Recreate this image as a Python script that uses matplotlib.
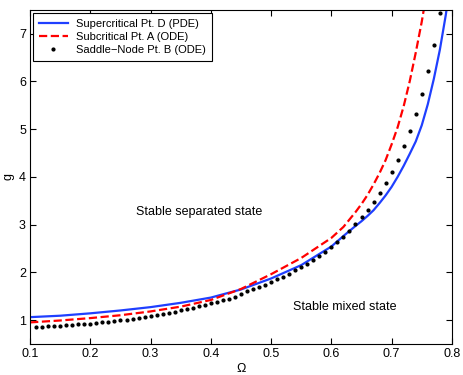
import numpy as np
import matplotlib.pyplot as plt

plt.rcParams['font.family'] = ['Liberation Sans', 'DejaVu Sans']

# Supercritical Pt. D (PDE)
omega_D = [0.10, 0.15, 0.20, 0.25, 0.30, 0.35, 0.40, 0.45, 0.50, 0.55,
           0.60, 0.62, 0.64, 0.65, 0.66, 0.67, 0.68, 0.69, 0.70, 0.71,
           0.72, 0.73, 0.74, 0.75, 0.76, 0.77, 0.78, 0.79, 0.795]
g_D = [1.06, 1.09, 1.14, 1.20, 1.27, 1.36, 1.47, 1.64, 1.87, 2.15,
       2.54, 2.76, 2.97, 3.07, 3.18, 3.30, 3.45, 3.61, 3.79, 4.00,
       4.23, 4.48, 4.74, 5.08, 5.52, 6.05, 6.66, 7.40, 7.85]

# Subcritical Pt. A (ODE)
omega_A = [0.10, 0.15, 0.20, 0.25, 0.30, 0.35, 0.40, 0.45, 0.50, 0.55,
           0.60, 0.62, 0.64, 0.65, 0.66, 0.67, 0.68, 0.69, 0.70, 0.71,
           0.72, 0.73, 0.74, 0.75, 0.76]
g_A = [0.95, 0.99, 1.04, 1.10, 1.18, 1.28, 1.42, 1.65, 1.96, 2.30,
       2.72, 2.95, 3.26, 3.43, 3.62, 3.84, 4.08, 4.35, 4.68, 5.04,
       5.48, 6.00, 6.60, 7.25, 8.00]

# Saddle-Node Pt. B (ODE)
omega_B = [0.11, 0.12, 0.13, 0.14, 0.15, 0.16, 0.17, 0.18, 0.19, 0.20,
           0.21, 0.22, 0.23, 0.24, 0.25, 0.26, 0.27, 0.28, 0.29, 0.30,
           0.31, 0.32, 0.33, 0.34, 0.35, 0.36, 0.37, 0.38, 0.39, 0.40,
           0.41, 0.42, 0.43, 0.44, 0.45, 0.46, 0.47, 0.48, 0.49, 0.50,
           0.51, 0.52, 0.53, 0.54, 0.55, 0.56, 0.57, 0.58, 0.59, 0.60,
           0.61, 0.62, 0.63, 0.64, 0.65, 0.66, 0.67, 0.68, 0.69, 0.70,
           0.71, 0.72, 0.73, 0.74, 0.75, 0.76, 0.77, 0.78]
g_B = [0.85, 0.86, 0.87, 0.87, 0.88, 0.89, 0.90, 0.91, 0.91, 0.92,
       0.93, 0.95, 0.96, 0.97, 0.99, 1.00, 1.02, 1.04, 1.06, 1.08,
       1.10, 1.12, 1.15, 1.17, 1.20, 1.23, 1.26, 1.29, 1.32, 1.35,
       1.38, 1.42, 1.45, 1.49, 1.54, 1.60, 1.65, 1.69, 1.74, 1.79,
       1.85, 1.90, 1.97, 2.04, 2.11, 2.18, 2.25, 2.34, 2.43, 2.54,
       2.63, 2.74, 2.87, 3.01, 3.15, 3.30, 3.47, 3.67, 3.87, 4.10,
       4.35, 4.64, 4.96, 5.32, 5.74, 6.22, 6.77, 7.43]

xticks = [0.1, 0.2, 0.3, 0.4, 0.5, 0.6, 0.7, 0.8]
yticks = [1, 2, 3, 4, 5, 6, 7]

fig = plt.figure(figsize=(4.63, 3.75), dpi=100)
ax = fig.add_axes([0.065, 0.083, 0.911, 0.891])

ax.plot(omega_D, g_D, '-', color='#1f3fff', lw=1.6, label='Supercritical Pt. D (PDE)')
ax.plot(omega_A, g_A, '--', color='#ff0000', lw=1.6, label='Subcritical Pt. A (ODE)')
ax.plot(omega_B, g_B, 'o', color='black', ms=2.0, ls='none', label='Saddle\u2212Node Pt. B (ODE)')

ax.text(0.38, 3.26, 'Stable separated state', fontsize=9, ha='center', va='center')
ax.text(0.622, 1.27, 'Stable mixed state', fontsize=9, ha='center', va='center')

ax.set_xlim(0.1, 0.8)
ax.set_ylim(0.5, 7.5)
ax.set_xticks(xticks)
ax.set_yticks(yticks)
ax.set_xticklabels([str(t) for t in xticks])
ax.tick_params(direction='in', top=True, right=True, length=4, labelsize=9, pad=3)
for s in ax.spines.values():
    s.set_linewidth(0.8)
ax.set_xlabel('\u03a9', fontsize=9, labelpad=2)
ax.set_ylabel('g', fontsize=9, labelpad=3)

leg = ax.legend(loc='upper left', fontsize=8, handlelength=2.6, handletextpad=0.7,
                labelspacing=0.3, borderpad=0.55, borderaxespad=0.25,
                numpoints=1, fancybox=False, framealpha=1)
leg.get_frame().set_edgecolor('black')
leg.get_frame().set_linewidth(0.8)

fig.savefig('out.png', dpi=100)
